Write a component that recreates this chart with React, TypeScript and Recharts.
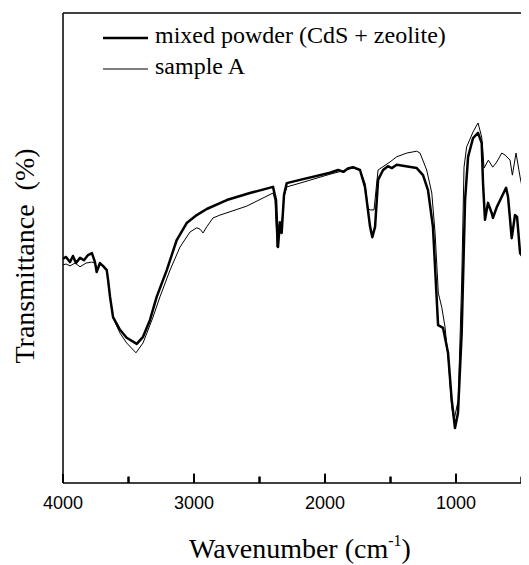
import React from 'react';
import { LineChart, Line, XAxis, YAxis, ReferenceLine, Legend } from 'recharts';

// [wavenumber (cm-1), transmittance (arb. %)]
const mixedPowder: [number, number][] = [
  [4000, 47.7], [3977, 48.1], [3947, 47.0], [3924, 48.3], [3901, 46.8], [3870, 47.9],
  [3840, 47.4], [3809, 48.5], [3779, 48.9], [3756, 47.0], [3743, 44.9], [3718, 46.8],
  [3695, 46.2], [3666, 45.3], [3656, 43.2], [3641, 39.6], [3618, 35.3], [3565, 32.6],
  [3514, 30.9], [3437, 29.6], [3389, 31.1], [3336, 34.7], [3285, 39.6], [3208, 45.3],
  [3132, 51.7], [3056, 55.3], [2979, 57.0], [2903, 58.3], [2750, 60.2], [2573, 61.7],
  [2397, 63.0], [2374, 60.2], [2359, 50.2], [2344, 55.5], [2331, 53.2], [2313, 61.3],
  [2292, 63.8], [2191, 64.5], [1962, 66.0], [1900, 66.6], [1860, 66.2], [1820, 67.0],
  [1786, 67.2], [1733, 66.6], [1695, 63.0], [1656, 54.5], [1639, 52.3], [1618, 54.5],
  [1595, 64.5], [1557, 66.6], [1520, 67.4], [1490, 67.0], [1453, 67.7], [1300, 67.0],
  [1252, 65.5], [1214, 62.3], [1176, 54.5], [1147, 38.9], [1137, 33.6], [1099, 33.0],
  [1061, 27.7], [1033, 17.7], [1008, 11.7], [985, 14.9], [957, 31.9], [931, 60.2],
  [908, 69.4], [870, 73.4], [832, 74.5], [804, 72.3], [794, 63.8], [779, 56.0],
  [756, 59.6], [727, 57.4], [718, 56.4], [689, 58.7], [651, 60.9], [618, 62.8],
  [603, 60.9], [575, 52.1], [550, 57.0], [534, 56.6], [511, 48.9], [489, 48.1],
  [460, 38.9], [450, 33.2],
];

const sampleA: [number, number][] = [
  [4000, 46.4], [3977, 46.6], [3947, 46.2], [3908, 46.8], [3870, 46.0], [3824, 46.8],
  [3781, 47.0], [3756, 46.8], [3740, 45.3], [3718, 46.6], [3666, 45.3], [3656, 43.2],
  [3641, 39.6], [3618, 35.1], [3565, 31.9], [3514, 29.8], [3443, 27.7], [3389, 29.8],
  [3313, 35.3], [3260, 39.6], [3183, 45.3], [3107, 50.2], [3031, 53.4], [2979, 54.3],
  [2954, 54.0], [2931, 53.2], [2903, 54.5], [2855, 56.4], [2802, 57.0], [2598, 58.9],
  [2397, 61.7], [2382, 60.2], [2366, 50.2], [2351, 54.9], [2336, 53.4], [2313, 60.9],
  [2292, 63.0], [2191, 63.8], [1962, 65.7], [1786, 67.0], [1733, 66.6], [1695, 63.8],
  [1672, 58.5], [1656, 58.1], [1626, 58.1], [1611, 62.3], [1595, 66.6], [1504, 68.3],
  [1453, 69.4], [1376, 70.2], [1300, 70.6], [1275, 70.2], [1224, 66.6], [1185, 61.7],
  [1160, 53.2], [1135, 40.4], [1109, 37.4], [1084, 33.2], [1059, 26.2], [1033, 16.2],
  [1015, 13.4], [983, 17.7], [957, 42.6], [939, 67.2], [919, 71.5], [870, 74.7],
  [832, 76.6], [804, 73.6], [786, 67.0], [753, 68.7], [720, 67.2], [689, 68.3],
  [651, 70.2], [626, 69.8], [588, 68.7], [570, 65.5], [542, 70.2], [511, 65.1],
  [491, 62.3], [460, 51.7],
];

const xTicks = [4000, 3500, 3000, 2500, 2000, 1500, 1000, 500];
const seriesNames = ['mixed powder (CdS + zeolite)', 'sample A'];
const xTitle = 'Wavenumber (cm';
const yTitle = 'Transmittance  (%)';

const toRows = (pts: [number, number][]) => pts.map(([wn, t]) => ({ wn, t }));
const mixedRows = toRows(mixedPowder);
const sampleRows = toRows(sampleA);

const SERIF = '"Liberation Serif", "Times New Roman", serif';
const SANS = '"Liberation Sans", Arial, sans-serif';

const TickMark = (props: any) => {
  const { x, y, payload } = props;
  const v = payload.value;
  const major = v % 1000 === 0;
  const len = major ? 9 : 6;
  return (
    <g>
      <path d={`M${x},${y - len}L${x},${y}`} stroke="#000" strokeWidth={2} fill="none" />
      {major && (
        <text x={x} y={y + 26} textAnchor="middle" fontFamily={SANS} fontSize={18} fill="#000">
          {v}
        </text>
      )}
    </g>
  );
};

const XTitle = () => (
  <text x={292} y={550} textAnchor="middle" fontFamily={SERIF} fontSize={28} fill="#000">
    {xTitle}
    <tspan fontSize={16} dy={-12}>-1</tspan>
    <tspan dy={12}>)</tspan>
  </text>
);

const YTitle = () => (
  <text
    x={25.5}
    y={248}
    transform="rotate(-90 25.5 248)"
    textAnchor="middle"
    fontFamily={SERIF}
    fontSize={28}
    fill="#000"
    style={{ whiteSpace: 'pre' }}
  >
    {yTitle}
  </text>
);

const LegendContent = () => (
  <svg width={460} height={80} style={{ display: 'block' }}>
    <line x1={95} x2={140} y1={30} y2={30} stroke="#000" strokeWidth={2.5} />
    <text x={147} y={35} fontFamily={SERIF} fontSize={24} fill="#000">{seriesNames[0]}</text>
    <line x1={95} x2={140} y1={61} y2={61} stroke="#000" strokeWidth={1} />
    <text x={147} y={66} fontFamily={SERIF} fontSize={24} fill="#000">{seriesNames[1]}</text>
  </svg>
);

export default function App() {
  return (
    <div style={{ width: 521, height: 557 }}>
      <LineChart
        width={521}
        height={557}
        margin={{ top: 5, right: 0, bottom: 72, left: 45 }}
      >
        <XAxis
          dataKey="wn"
          type="number"
          domain={[443, 4000]}
          reversed
          ticks={xTicks}
          interval={0}
          allowDataOverflow
          height={10}
          tickSize={0}
          tickMargin={0}
          tickLine={false}
          tick={<TickMark />}
          axisLine={{ stroke: '#000', strokeWidth: 1.5 }}
          label={<XTitle />}
        />
        <YAxis
          dataKey="t"
          type="number"
          domain={[0, 100]}
          width={10}
          tick={false}
          tickLine={false}
          axisLine={{ stroke: '#000', strokeWidth: 1.5 }}
          label={<YTitle />}
        />
        <ReferenceLine y={100} stroke="#000" strokeWidth={1.5} />
        {xTicks.filter((v) => v !== 4000).map((v) => (
          <ReferenceLine
            key={v}
            ifOverflow="visible"
            segment={[{ x: v, y: 0 }, { x: v, y: v % 1000 === 0 ? 2 : 1.4 }]}
            stroke="#000"
            strokeWidth={2}
          />
        ))}
        <Legend
          layout="vertical"
          align="center"
          verticalAlign="middle"
          wrapperStyle={{ left: 0, top: 0, width: 460, height: 80 }}
          content={<LegendContent />}
        />
        <Line
          data={sampleRows}
          dataKey="t"
          name={seriesNames[1]}
          type="linear"
          stroke="#000"
          strokeWidth={1}
          dot={false}
          isAnimationActive={false}
        />
        <Line
          data={mixedRows}
          dataKey="t"
          name={seriesNames[0]}
          type="linear"
          stroke="#000"
          strokeWidth={2.5}
          strokeLinejoin="round"
          dot={false}
          isAnimationActive={false}
        />
      </LineChart>
    </div>
  );
}
